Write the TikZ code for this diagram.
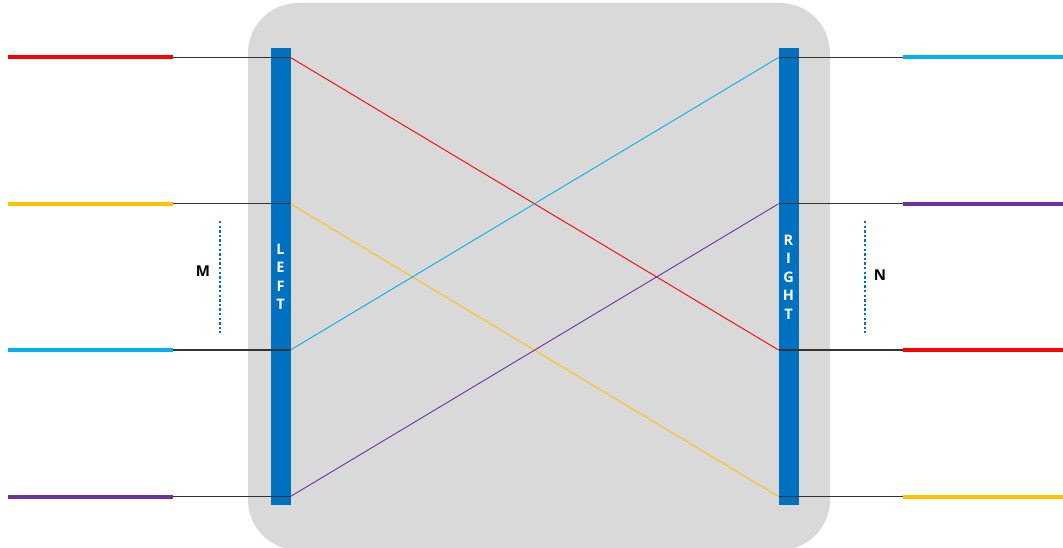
\documentclass[tikz,border=0pt]{standalone}
\usepackage{fontspec}
\setmainfont{Open Sans}
\definecolor{cred}{HTML}{FF0000}
\definecolor{cyel}{HTML}{FFC000}
\definecolor{ccyan}{HTML}{00B0F0}
\definecolor{cpur}{HTML}{7030A0}
\definecolor{cbar}{HTML}{0070C0}
\definecolor{cgray}{HTML}{D9D9D9}
\begin{document}
\begin{tikzpicture}[x=1pt,y=-1pt,
  barbox/.style={draw=none,fill=cbar,minimum width=20pt,minimum height=457pt,inner sep=0pt},
  barlabel/.style={text=white,font=\bfseries\fontsize{14.5}{18.5}\selectfont,align=center,inner sep=0pt},
  feed/.style={line width=4pt},
  link/.style={draw=black!80,line width=1.3pt},
  cross/.style={line width=0.9pt},
  dots/.style={draw=cbar,line width=2.6pt,dash pattern=on 2.4pt off 2.2pt},
  side/.style={font=\bfseries\fontsize{15}{17}\selectfont,inner sep=0pt}]
\useasboundingbox (0,0) rectangle (1063,548);
\clip (0,0) rectangle (1063,548);
\fill[cgray,rounded corners=50pt] (248,3) rectangle (830,550);
% bars
\node[barbox] (lbar) at (280.5,276.5) {};
\node[barbox] (rbar) at (788.5,276.5) {};
\node[barlabel] (ltxt) at (280.5,277) {L\\E\\F\\T};
\node[barlabel] (rtxt) at (788.5,277) {R\\I\\G\\H\\T};
% coordinates
\foreach \i/\y in {1/57.5,2/203.8,3/350,4/496.5}{
  \coordinate (la\i) at (8,\y);
  \coordinate (lb\i) at (173,\y);
  \coordinate (lc\i) at (290.5,\y);
  \coordinate (rc\i) at (778.5,\y);
  \coordinate (rb\i) at (903,\y);
  \coordinate (ra\i) at (1063,\y);
}
% thin black links
\foreach \i in {1,2,3,4}{
  \draw[link] (lb\i) -- (lc\i);
  \draw[link] (rc\i) -- (rb\i);
}
% diagonals
\draw[cross,cred] (lc1) -- (rc3);
\draw[cross,cyel] (lc2) -- (rc4);
\draw[cross,ccyan] (lc3) -- (rc1);
\draw[cross,cpur] (lc4) -- (rc2);
% colored feeds
\draw[feed,cred] (la1) -- (lb1);
\draw[feed,cyel] (la2) -- (lb2);
\draw[feed,ccyan] (la3) -- (lb3);
\draw[feed,cpur] (la4) -- (lb4);
\draw[feed,ccyan] (rb1) -- (ra1);
\draw[feed,cpur] (rb2) -- (ra2);
\draw[feed,cred] (rb3) -- (ra3);
\draw[feed,cyel] (rb4) -- (ra4);
% dotted markers
\coordinate (m1) at (220,221);
\coordinate (m2) at (220,333);
\coordinate (n1) at (865,221);
\coordinate (n2) at (865,333);
\draw[dots] (m1) -- (m2);
\draw[dots] (n1) -- (n2);
\node[side] (mlab) at (203,271) {M};
\node[side] (nlab) at (880,275) {N};
\end{tikzpicture}
\end{document}
